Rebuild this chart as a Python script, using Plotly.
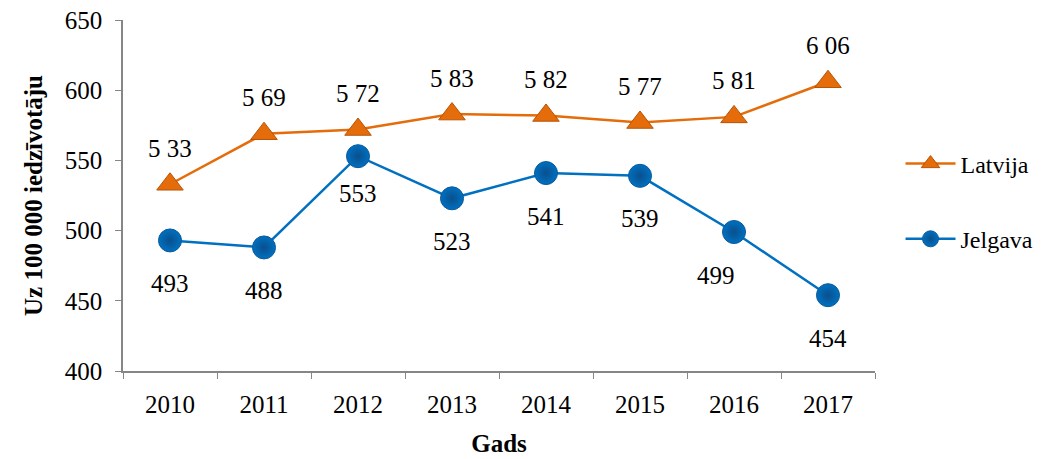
import plotly.graph_objects as go

years = ["2010", "2011", "2012", "2013", "2014", "2015", "2016", "2017"]
latvija = [533, 569, 572, 583, 582, 577, 581, 606]
jelgava = [493, 488, 553, 523, 541, 539, 499, 454]
latvija_labels = ["5 33", "5 69", "5 72", "5 83", "5 82", "5 77", "5 81", "6 06"]
jelgava_labels = ["493", "488", "553", "523", "541", "539", "499", "454"]
y_ticks = [400, 450, 500, 550, 600, 650]

ORANGE = "#E46C0A"
BLUE = "#0070C0"
FONT = "Liberation Serif, Times New Roman, serif"
FS = 25

fig = go.Figure()
fig.add_trace(go.Scatter(
    x=years, y=latvija, name="Latvija", mode="lines+markers",
    line=dict(color=ORANGE, width=2.5),
    marker=dict(symbol="triangle-up", size=23, color=ORANGE,
                line=dict(color="#B85407", width=1)),
    legendgroup="a",
))
fig.add_trace(go.Scatter(
    x=years, y=jelgava, name="Jelgava", mode="lines+markers",
    line=dict(color=BLUE, width=2.5),
    marker=dict(symbol="circle", size=23, color=BLUE,
                gradient=dict(type="radial", color="#0A4F8C"),
                line=dict(color="#0A5A9C", width=1)),
    legendgroup="b",
))

for i, (y, t) in enumerate(zip(latvija, latvija_labels)):
    fig.add_annotation(x=i, y=y, text=t, showarrow=False, yshift=36,
                       font=dict(family=FONT, size=FS, color="black"))

for i, (x, y, t) in enumerate(zip(years, jelgava, jelgava_labels)):
    xs = -18 if x == "2016" else 0
    ys = -37 if x == "2012" else -43
    fig.add_annotation(x=i, y=y, text=t, showarrow=False, yshift=ys, xshift=xs,
                       font=dict(family=FONT, size=FS, color="black"))

fig.update_layout(
    width=1044, height=459,
    margin=dict(l=115, r=177, t=12, b=96, autoexpand=False),
    paper_bgcolor="white", plot_bgcolor="white",
    font=dict(family=FONT, size=FS, color="black"),
    showlegend=True,
    legend=dict(x=0.8549, y=0.5784, xref="container", yref="container",
                xanchor="left", yanchor="middle",
                traceorder="grouped", tracegroupgap=41, itemwidth=50,
                font=dict(family=FONT, size=24, color="black"),
                bgcolor="rgba(0,0,0,0)"),
    xaxis=dict(
        type="category", categoryorder="array", categoryarray=years,
        range=[-0.5, len(years) - 0.5],
        tickson="boundaries", ticks="outside", ticklen=6, tickangle=0,
        ticklabelstandoff=10, ticklabeloverflow="allow",
        tickcolor="#868686", showline=True, linecolor="#868686", linewidth=1.5,
        showgrid=False, zeroline=False,
        tickfont=dict(family=FONT, size=FS),
        title=dict(text="<b>Gads</b>", font=dict(family=FONT, size=FS), standoff=18),
        automargin=False,
    ),
    yaxis=dict(
        range=[400, 650], tickvals=y_ticks, ticks="outside", ticklen=6,
        ticklabelstandoff=8, ticklabeloverflow="allow",
        tickcolor="#868686", showline=True, linecolor="#868686", linewidth=1.5,
        showgrid=False, zeroline=False,
        tickfont=dict(family=FONT, size=FS),
        title=dict(text="<b>Uz 100 000 iedzīvotāju</b>", font=dict(family=FONT, size=FS), standoff=15),
        automargin=False,
    ),
)

fig.write_html("out.html")
